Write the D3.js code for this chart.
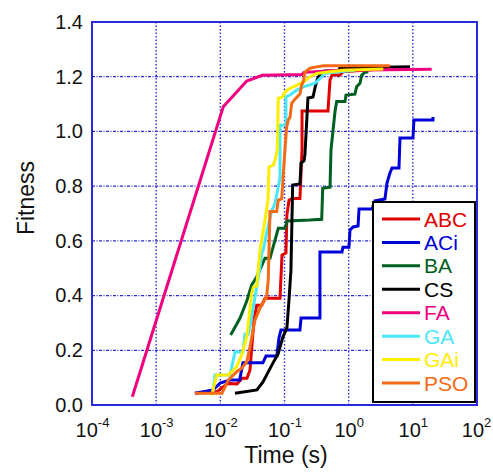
<!DOCTYPE html>
<html>
<head>
<meta charset="utf-8">
<script src="https://cdn.jsdelivr.net/npm/d3@7"></script>
<style>
html,body{margin:0;padding:0;background:#fff;}
svg{display:block;font-family:"Liberation Sans",Arial,Helvetica,sans-serif;}
</style>
</head>
<body>
<svg id="chart" width="493" height="475"></svg>
<script>
// ---- data (time in s, fitness) ----
const seriesNames = ["ABC","ACi","BA","CS","FA","GA","GAi","PSO"];
const seriesColors = ["#e00000","#0000d8","#006020","#000000","#f0007e","#48e8f8","#ffee00","#f56a14"];

const ABC = [[0.00403,0.043],[0.00887,0.049],[0.01315,0.079],[0.0182,0.077],[0.0218,0.098],[0.026,0.098],[0.029,0.128],[0.0311,0.219],[0.0335,0.311],[0.0369,0.365],[0.0442,0.365],[0.0497,0.390],[0.0851,0.390],[0.0914,0.548],[0.1054,0.556],[0.109,0.694],[0.1175,0.749],[0.131,0.755],[0.174,0.755],[0.1875,0.932],[0.1875,1.075],[0.476,1.075],[0.512,1.188],[0.55,1.206],[0.733,1.206],[0.815,1.218],[4.10,1.230]];
const ACi = [[0.0040,0.043],[0.0077,0.055],[0.0099,0.080],[0.0142,0.091],[0.020,0.091],[0.0225,0.154],[0.046,0.154],[0.0515,0.179],[0.076,0.179],[0.082,0.245],[0.088,0.274],[0.174,0.274],[0.181,0.318],[0.357,0.318],[0.357,0.559],[0.787,0.559],[0.815,0.577],[1.01,0.577],[1.05,0.640],[1.17,0.651],[1.40,0.654],[1.45,0.716],[2.31,0.716],[2.57,0.746],[3.68,0.753],[3.95,0.811],[4.40,0.848],[4.73,0.866],[6.08,0.866],[6.31,0.976],[10.05,0.976],[10.4,1.042],[20.6,1.042],[20.6,1.053]];
const BA = [[0.01448,0.256],[0.0202,0.317],[0.0258,0.380],[0.0308,0.439],[0.0369,0.468],[0.0467,0.523],[0.0497,0.536],[0.0594,0.536],[0.080,0.646],[0.102,0.646],[0.110,0.673],[0.249,0.676],[0.380,0.679],[0.394,0.792],[0.512,0.796],[0.530,0.932],[0.612,1.072],[0.650,1.109],[0.877,1.109],[0.908,1.133],[1.25,1.136],[1.33,1.163],[1.50,1.176],[1.60,1.206],[1.79,1.216],[2.02,1.218]];
const CS = [[0.0169,0.043],[0.0372,0.055],[0.0462,0.084],[0.0662,0.154],[0.0793,0.186],[0.0946,0.249],[0.109,0.281],[0.1175,0.384],[0.126,0.493],[0.134,0.804],[0.174,0.808],[0.181,0.885],[0.201,0.892],[0.208,0.914],[0.232,1.122],[0.278,1.126],[0.299,1.159],[0.321,1.188],[0.345,1.202],[0.384,1.217],[0.428,1.221],[0.682,1.221],[0.733,1.232],[9.03,1.236]];
const FA = [[0.000425,0.030],[0.0111,1.090],[0.0258,1.184],[0.0451,1.205],[0.1875,1.208],[0.20,1.216],[0.733,1.224],[19.7,1.227]];
const GA = [[0.00769,0.048],[0.00826,0.110],[0.01416,0.110],[0.0169,0.194],[0.02254,0.194],[0.0242,0.259],[0.0273,0.259],[0.0308,0.322],[0.0369,0.431],[0.0415,0.504],[0.0442,0.554],[0.0467,0.567],[0.0527,0.629],[0.0631,0.709],[0.0711,0.737],[0.080,0.797],[0.0851,0.833],[0.0851,1.023],[0.1054,1.023],[0.1054,1.126],[0.122,1.133],[0.155,1.151],[0.196,1.163],[0.249,1.170],[0.299,1.176],[0.380,1.200],[0.428,1.212],[0.543,1.215],[1.25,1.224]];
const GAi = [[0.00733,0.035],[0.00877,0.110],[0.0133,0.110],[0.0180,0.140],[0.0215,0.183],[0.0258,0.249],[0.0308,0.408],[0.0327,0.431],[0.0369,0.435],[0.0415,0.567],[0.0497,0.676],[0.0553,0.749],[0.0573,0.870],[0.0668,0.877],[0.0711,0.895],[0.0773,0.932],[0.080,1.121],[0.0938,1.127],[0.102,1.145],[0.122,1.158],[0.155,1.168],[0.196,1.182],[0.222,1.190],[0.249,1.200],[0.318,1.212],[0.512,1.218],[0.824,1.224],[3.47,1.228]];
const PSO = [[0.00403,0.043],[0.0106,0.043],[0.0133,0.091],[0.0180,0.122],[0.0210,0.132],[0.0258,0.157],[0.0290,0.213],[0.0347,0.311],[0.0415,0.355],[0.0467,0.376],[0.0527,0.395],[0.0558,0.457],[0.0594,0.707],[0.0755,0.707],[0.080,0.749],[0.0903,0.753],[0.102,0.939],[0.108,1.016],[0.1146,1.042],[0.122,1.053],[0.1294,1.103],[0.1455,1.118],[0.174,1.137],[0.1854,1.170],[0.196,1.181],[0.208,1.217],[0.249,1.231],[0.318,1.236],[0.403,1.240],[4.40,1.240]];

const xTickExps = [-4,-3,-2,-1,0,1,2];
const yTicks = [0.0,0.2,0.4,0.6,0.8,1.0,1.2,1.4];

const seriesData = [ABC, ACi, BA, CS, FA, GA, GAi, PSO];

// ---- layout ----
const svg = d3.select("#chart");
const L = 92, R = 477, T = 22, B = 405;
const x = d3.scaleLog().domain([1e-4, 1e2]).range([L, R]);
const y = d3.scaleLinear().domain([0, 1.4]).range([B, T]);
const gridColor = "#2a2ad8";

// grid
const grid = svg.append("g");
grid.selectAll("line.v").data(xTickExps.slice(1, -1)).enter().append("line")
  .attr("x1", d => x(Math.pow(10, d))).attr("x2", d => x(Math.pow(10, d)))
  .attr("y1", T).attr("y2", B)
  .attr("stroke", gridColor).attr("stroke-width", 1.4).attr("stroke-dasharray", "1.5,2");
grid.selectAll("line.h").data(yTicks.slice(1, -1)).enter().append("line")
  .attr("x1", L).attr("x2", R)
  .attr("y1", d => y(d)).attr("y2", d => y(d))
  .attr("stroke", gridColor).attr("stroke-width", 1.2).attr("stroke-dasharray", "3,1.5,1,1.5");

// lines
const line = d3.line().x(d => x(d[0])).y(d => y(d[1]));
svg.append("g").selectAll("path").data(seriesData).enter().append("path")
  .attr("d", d => line(d))
  .attr("fill", "none")
  .attr("stroke", (d, i) => seriesColors[i])
  .attr("stroke-width", 3)
  .attr("stroke-linejoin", "miter");

// frame
svg.append("rect").attr("x", L).attr("y", T).attr("width", R - L).attr("height", B - T)
  .attr("fill", "none").attr("stroke", gridColor).attr("stroke-width", 2);

// y axis
const yAxis = d3.axisLeft(y).tickValues(yTicks).tickSize(0).tickPadding(9).tickFormat(d3.format(".1f"));
const gy = svg.append("g").attr("transform", `translate(${L},0)`).call(yAxis);
gy.select(".domain").remove();
gy.selectAll("text").attr("font-size", 20).attr("fill", "#111").attr("font-family", "Liberation Sans, Arial, sans-serif");

// x axis
const xAxis = d3.axisBottom(x).tickValues(xTickExps.map(e => Math.pow(10, e))).tickSize(0).tickPadding(0).tickFormat("");
const gx = svg.append("g").attr("transform", `translate(0,${B})`).call(xAxis);
gx.select(".domain").remove();
gx.selectAll(".tick").each(function(d) {
  const e = Math.round(Math.log10(d));
  const t = d3.select(this).select("text")
    .attr("y", 32).attr("dy", 0).attr("text-anchor", "middle")
    .attr("font-size", 20).attr("fill", "#111").attr("font-family", "Liberation Sans, Arial, sans-serif")
    .attr("dx", e === 2 ? -1 : 0);
  t.append("tspan").text("10");
  t.append("tspan").attr("font-size", 13).attr("dy", -10).text(String(e));
});

// axis labels
svg.append("text").attr("x", 286).attr("y", 463).attr("text-anchor", "middle")
  .attr("font-size", 23).attr("fill", "#111").text("Time (s)");
svg.append("text").attr("transform", "translate(34,198) rotate(-90)").attr("text-anchor", "middle")
  .attr("font-size", 23).attr("fill", "#111").text("Fitness");

// legend
const lg = svg.append("g");
lg.append("rect").attr("x", 373).attr("y", 202).attr("width", 102).attr("height", 200)
  .attr("fill", "#fff").attr("stroke", "#000").attr("stroke-width", 2);
const rowY = d3.scaleLinear().domain([0, 7]).range([219, 383]);
seriesNames.forEach((n, i) => {
  lg.append("line").attr("x1", 382).attr("x2", 420).attr("y1", rowY(i)).attr("y2", rowY(i))
    .attr("stroke", seriesColors[i]).attr("stroke-width", 3);
  lg.append("text").attr("x", 424).attr("y", rowY(i) + 7.5).attr("font-size", 21)
    .attr("fill", seriesColors[i]).text(n);
});
</script>
</body>
</html>
